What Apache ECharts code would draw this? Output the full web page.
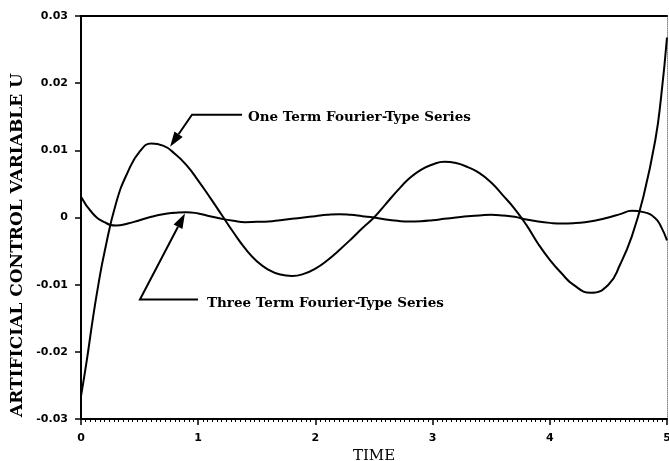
<!DOCTYPE html>
<html>
<head>
<meta charset="utf-8">
<script src="https://cdn.jsdelivr.net/npm/echarts@6/dist/echarts.min.js"></script>
<style>html,body{margin:0;padding:0;background:#fff}#c{width:669px;height:461px}</style>
</head>
<body>
<div id="c"></div>
<script>
// ---- data ----
const oneTermT = [0.0,0.05,0.1,0.15,0.2,0.3,0.4,0.5,0.6,0.7,0.8,0.9,1.0,1.1,1.2,1.3,1.4,1.5,1.6,1.7,1.8,1.9,2.0,2.1,2.2,2.3,2.4,2.5,2.6,2.7,2.8,2.9,3.0,3.1,3.2,3.3,3.4,3.5,3.6,3.7,3.8,3.9,4.0,4.1,4.2,4.35,4.5,4.6,4.7,4.8,4.9,4.95,5.0];
const oneTermU = [-0.0266,-0.0212,-0.0152,-0.0098,-0.0052,0.0022,0.0068,0.0098,0.0110,0.0107,0.0095,0.0078,0.0055,0.0030,0.0004,-0.0022,-0.0046,-0.0065,-0.0078,-0.0085,-0.0087,-0.0084,-0.0076,-0.0064,-0.0049,-0.0033,-0.0016,0.0000,0.0020,0.0040,0.0058,0.0071,0.0079,0.0083,0.0081,0.0075,0.0066,0.0052,0.0033,0.0013,-0.0011,-0.0039,-0.0063,-0.0083,-0.0100,-0.0112,-0.0100,-0.0070,-0.0028,0.0032,0.0115,0.0180,0.0268];
const threeTermT = [0.0,0.1,0.2,0.3,0.4,0.5,0.6,0.7,0.8,0.9,1.0,1.1,1.2,1.3,1.4,1.5,1.6,1.7,1.8,1.9,2.0,2.1,2.2,2.3,2.4,2.5,2.6,2.7,2.8,2.9,3.0,3.1,3.2,3.3,3.4,3.5,3.6,3.7,3.8,3.9,4.0,4.1,4.2,4.3,4.4,4.5,4.6,4.7,4.8,4.9,4.95,5.0];
const threeTermU = [0.0031,0.0006,-0.0007,-0.0012,-0.0009,-0.0004,0.0001,0.0005,0.0007,0.0008,0.0006,0.0002,-0.0002,-0.0005,-0.0007,-0.00065,-0.0006,-0.0004,-0.0002,0.0000,0.0002,0.0004,0.0005,0.0004,0.0002,0.0000,-0.0003,-0.0005,-0.0006,-0.00055,-0.0004,-0.0002,0.0000,0.0002,0.0003,0.0004,0.0003,0.0001,-0.0003,-0.0006,-0.0008,-0.0009,-0.00085,-0.0007,-0.0004,0.0000,0.0005,0.0010,0.0008,-0.0001,-0.0014,-0.0034];
const xTicks = [0,1,2,3,4,5];
const xTickLabels = ['0','1','2','3','4','5'];
const yTicks = [-0.03,-0.02,-0.01,0,0.01,0.02,0.03];
const yTickLabels = ['-0.03','-0.02','-0.01','0','0.01','0.02','0.03'];
const seriesNames = ['One Term Fourier-Type Series','Three Term Fourier-Type Series'];
const xAxisTitle = 'TIME';
const yAxisTitle = 'ARTIFICIAL CONTROL VARIABLE U';
// annotation anchors in data coordinates: [tip, elbow, lineEnd, textStart]
const oneTermNote = [[0.76,0.01055],[0.947,0.0153],[1.374,0.0153],[1.425,0.0149]];
const threeTermNote = [[0.887,0.0006],[0.503,-0.0122],[0.998,-0.0122],[1.075,-0.0128]];

const zip = (a,b) => a.map((v,i)=>[v,b[i]]);
const fmt = (list, labels) => v => { const i = list.findIndex(t => Math.abs(t - v) < 1e-9); return i >= 0 ? labels[i] : ''; };

const chart = echarts.init(document.getElementById('c'));
const labelFont = {fontFamily:'DejaVu Sans', fontWeight:'bold', fontSize:11, color:'#000'};
chart.setOption({
  animation:false,
  backgroundColor:'#fff',
  grid:{left:81,right:2,top:16,bottom:42,containLabel:false,outerBoundsMode:'none'},
  xAxis:[{
    type:'value',min:0,max:5,interval:1,
    axisLine:{onZero:false,lineStyle:{color:'#000',width:2}},
    axisTick:{length:6,lineStyle:{color:'#000',width:1.5}},
    minorTick:{show:true,splitNumber:25,length:3,lineStyle:{color:'#000',width:1}},
    splitLine:{show:false},
    axisLabel:Object.assign({margin:14,formatter:fmt(xTicks,xTickLabels)},labelFont),
    name:xAxisTitle,nameLocation:'middle',nameGap:24,
    nameTextStyle:{fontFamily:'DejaVu Serif',fontSize:15,color:'#000'}
  },{
    type:'value',min:0,max:5,position:'top',
    axisLine:{onZero:false,lineStyle:{color:'#000',width:2}},
    axisTick:{show:false},axisLabel:{show:false},splitLine:{show:false}
  }],
  yAxis:[{
    type:'value',min:-0.03,max:0.03,interval:0.01,
    axisLine:{onZero:false,lineStyle:{color:'#000',width:2}},
    axisTick:{length:6,lineStyle:{color:'#000',width:1.5}},
    splitLine:{show:false},
    axisLabel:Object.assign({margin:13,formatter:fmt(yTicks,yTickLabels)},labelFont)
  },{
    type:'value',min:-0.03,max:0.03,position:'right',
    axisLine:{onZero:false,lineStyle:{color:'#888',width:1,type:'dotted'}},
    axisTick:{show:false},axisLabel:{show:false},splitLine:{show:false}
  }],
  series:[
    {name:seriesNames[0],type:'line',smooth:true,showSymbol:false,data:zip(oneTermT,oneTermU),lineStyle:{color:'#000',width:2}},
    {name:seriesNames[1],type:'line',smooth:true,showSymbol:false,data:zip(threeTermT,threeTermU),lineStyle:{color:'#000',width:2}}
  ]
});

function noteGraphics(note, text){
  const p = note.map(d => chart.convertToPixel({gridIndex:0}, d));
  const tip = p[0], elbow = p[1];
  const dx = tip[0]-elbow[0], dy = tip[1]-elbow[1];
  const L = Math.hypot(dx,dy), ux = dx/L, uy = dy/L;
  const hl = 15, hw = 5;
  const bx = tip[0]-ux*hl, by = tip[1]-uy*hl;
  return [
    {type:'polyline',shape:{points:[[p[2][0],p[2][1]],[elbow[0],elbow[1]],[bx,by]]},style:{stroke:'#000',lineWidth:2,fill:null}},
    {type:'polygon',shape:{points:[[tip[0],tip[1]],[bx-uy*hw,by+ux*hw],[bx+uy*hw,by-ux*hw]]},style:{fill:'#000'}},
    {type:'text',x:p[3][0],y:p[3][1],style:{text:text,fontFamily:'DejaVu Serif',fontWeight:'bold',fontSize:13.5,fill:'#000',textVerticalAlign:'middle'}}
  ];
}
chart.setOption({graphic:[
  ...noteGraphics(oneTermNote, seriesNames[0]),
  ...noteGraphics(threeTermNote, seriesNames[1]),
  {type:'text',x:18,y:245,rotation:Math.PI/2,style:{text:yAxisTitle,fontFamily:'DejaVu Serif',fontWeight:'bold',fontSize:17,fill:'#000',textAlign:'center',textVerticalAlign:'middle'}}
]});
</script>
</body>
</html>
